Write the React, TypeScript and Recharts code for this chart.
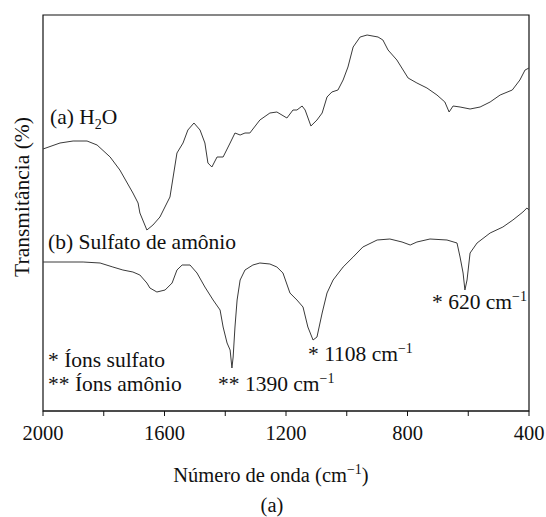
import { LineChart, Line, XAxis, YAxis, ReferenceArea } from "recharts";

// wavenumber (cm-1) and transmittance (arbitrary units, axis not labelled)
const waterWave = [
  2000, 1944, 1901, 1855, 1822, 1779, 1747, 1704, 1687, 1681, 1658, 1638, 1615, 1592, 1582, 1559,
  1539, 1523, 1503, 1483, 1467, 1457, 1444, 1427, 1407, 1384, 1368, 1351, 1335, 1319, 1286, 1253,
  1230, 1197, 1177, 1164, 1147, 1137, 1118, 1098, 1081, 1065, 1049, 1029, 1012, 996, 979, 956,
  933, 897, 881, 864, 835, 798, 769, 736, 703, 677, 663, 650, 627, 594, 561, 528, 495, 455, 430,
  413, 400,
];
const waterT = [
  262, 268, 270, 270, 266, 254, 241, 218, 208, 198, 181, 186, 194, 208, 214, 258,
  268, 281, 288, 281, 268, 248, 244, 254, 254, 268, 278, 276, 278, 278, 291, 298,
  299, 293, 301, 301, 305, 301, 285, 291, 298, 314, 319, 321, 331, 344, 364, 374,
  376, 374, 371, 361, 351, 333, 328, 323, 316, 309, 299, 305, 304, 302, 304, 309, 316, 321, 331,
  341, 343,
];

const sulfateWave = [
  2000, 1868, 1812, 1770, 1737, 1704, 1681, 1658, 1648, 1625, 1598, 1575, 1559, 1542, 1516, 1493,
  1467, 1440, 1417, 1407, 1394, 1384, 1378, 1374, 1368, 1361, 1351, 1335, 1309, 1286, 1253, 1230,
  1210, 1187, 1164, 1144, 1128, 1111, 1098, 1081, 1065, 1045, 1012, 979, 947, 900, 858, 818,
  791, 769, 726, 670, 637, 627, 617, 611, 604, 594, 571, 528, 486, 453, 420, 407, 400,
];
const sulfateT = [
  149, 149, 148, 144, 141, 139, 136, 128, 123, 119, 121, 128, 141, 146, 146, 138,
  124, 111, 101, 84, 68, 61, 43, 54, 84, 111, 131, 141, 146, 148, 147, 144,
  138, 118, 111, 104, 84, 71, 74, 98, 118, 131, 144, 154, 164, 171, 172, 169,
  166, 169, 172, 171, 168, 154, 138, 121, 131, 158, 168, 178, 184, 191, 199, 203, 201,
];

const xTicks = [2000, 1800, 1600, 1400, 1200, 1000, 800, 600, 400];

const waterData = waterWave.map((w, i) => ({ w, t: waterT[i] }));
const sulfateData = sulfateWave.map((w, i) => ({ w, t: sulfateT[i] }));

const FONT = "Liberation Serif";
const LINE_COLOR = "#3a3a3a";

function Sup({ children }: { children: string }) {
  return (
    <tspan dy={-8} fontSize={14}>
      {children}
    </tspan>
  );
}

function Overlay() {
  return (
    <svg
      width={546}
      height={517}
      style={{ position: "absolute", left: 0, top: 0, pointerEvents: "none", fontFamily: FONT }}
      fontSize={21.5}
      fill="#111"
    >
      <text x={50} y={124}>
        (a) H<tspan dy={5} fontSize={14}>2</tspan>
        <tspan dy={-5}>O</tspan>
      </text>
      <text x={48} y={249}>(b) Sulfato de amônio</text>
      <text x={48} y={367}>* Íons sulfato</text>
      <text x={48} y={391}>** Íons amônio</text>
      <text x={218} y={391}>
        ** 1390 cm<Sup>−1</Sup>
      </text>
      <text x={308} y={361}>
        * 1108 cm<Sup>−1</Sup>
      </text>
      <text x={432} y={309}>
        * 620 cm<Sup>−1</Sup>
      </text>
      <text x={271} y={482} textAnchor="middle" fontSize={20.5}>
        Número de onda (cm<Sup>−1</Sup>
        <tspan dy={8}>)</tspan>
      </text>
      <text x={272} y={512} textAnchor="middle" fontSize={20.5}>
        (a)
      </text>
      <text x={29} y={197} textAnchor="middle" transform="rotate(-90 29 197)">
        Transmitância (%)
      </text>
    </svg>
  );
}

export default function App() {
  return (
    <div style={{ position: "absolute", left: 0, top: 0, width: 546, height: 517, background: "#fff", fontFamily: FONT }}>
      <LineChart width={546} height={517} margin={{ top: 15, right: 17, left: 43, bottom: 76 }}>
        <XAxis
          dataKey="w"
          type="number"
          domain={[400, 2000]}
          reversed
          ticks={xTicks}
          interval={0}
          tickFormatter={(v: number) => (v % 400 === 0 ? String(v) : "")}
          tickSize={5}
          tickMargin={9}
          height={30}
          stroke="#111"
          tick={{ fill: "#111", fontSize: 20.5, fontFamily: FONT }}
        />
        <YAxis hide type="number" domain={[0, 396]} />
        <ReferenceArea
          x1={2000}
          x2={400}
          y1={0}
          y2={396}
          fill="none"
          stroke="#111"
          strokeWidth={1.2}
        />
        <Line
          data={waterData}
          dataKey="t"
          type="linear"
          stroke={LINE_COLOR}
          strokeWidth={1}
          dot={false}
          isAnimationActive={false}
        />
        <Line
          data={sulfateData}
          dataKey="t"
          type="linear"
          stroke={LINE_COLOR}
          strokeWidth={1}
          dot={false}
          isAnimationActive={false}
        />
      </LineChart>
      <Overlay />
    </div>
  );
}
